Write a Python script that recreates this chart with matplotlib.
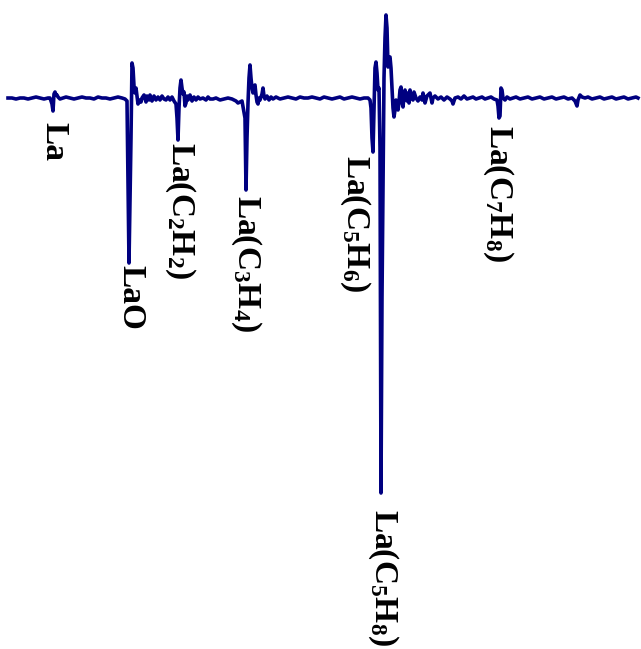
import matplotlib
matplotlib.use("Agg")
import matplotlib.pyplot as plt

plt.rcParams["font.family"] = "Liberation Serif"
plt.rcParams["mathtext.fontset"] = "custom"
plt.rcParams["mathtext.rm"] = "Liberation Serif:bold"
plt.rcParams["mathtext.bf"] = "Liberation Serif:bold"
plt.rcParams["mathtext.default"] = "bf"

# trace: position (arb.) and signal (arb., baseline = 0)
mass = [
    8, 12, 16, 20, 24, 28, 32, 36, 40, 44, 48, 50, 52, 53, 54, 55, 56, 57, 58, 60,
    63, 66, 70, 74, 78, 82, 86, 90, 94, 98, 102, 106, 110, 114, 118, 122, 125, 127,
    129, 131, 132, 133, 134, 135, 136, 137, 138, 139, 140, 141, 142, 144, 145, 146,
    147, 149, 150, 152, 154, 156, 158, 160, 162, 164, 166, 168, 170, 172, 174, 176,
    177, 178, 179, 180, 181, 182, 183, 184, 185, 186, 187, 188, 190, 192, 194, 196,
    198, 200, 203, 206, 208, 210, 213, 216, 220, 224, 228, 232, 236, 238, 240, 242,
    245, 246, 247, 248, 249, 250, 251, 252, 253, 254, 255, 256, 257, 258, 259, 260,
    262, 263, 264, 265, 267, 269, 271, 273, 276, 280, 284, 288, 292, 296, 300, 304,
    308, 312, 316, 320, 324, 328, 332, 336, 340, 344, 348, 352, 356, 360, 364, 368,
    370, 371, 372, 373, 374, 375, 376, 377, 378, 379, 380,
    381, 382, 384, 385, 386, 387, 388, 389, 390, 391, 392, 393, 394, 395, 396, 397,
    398, 399, 400, 401, 402, 403, 404, 405, 406, 407, 408, 409, 410, 411, 413, 414,
    416, 418, 420, 422, 423, 425, 427, 430, 432, 433, 435, 438, 441, 444, 447, 450,
    452, 453, 455, 458, 461, 464, 467, 470, 473, 476, 479, 482, 485, 488, 491, 494,
    497, 498, 499, 500, 501, 502, 503, 505, 507, 510, 513, 516, 520, 524, 528, 532,
    536, 540, 544, 548, 552, 556, 560, 564, 568, 572, 575, 577, 578, 580, 582, 585,
    588, 592, 596, 600, 604, 608, 612, 616, 620, 624, 628, 632, 636, 638,
]
signal = [
    0, 0, -1, 0, 0, -1, 0, 1, 0, -1, 0, 0, -6, -13, 4, 6, 3, 3, 1, -1,
    0, 1, 0, -1, 0, 1, 0, 0, -1, 1, 0, 0, -1, 0, 1, 0, -1, -3,
    -165, -40, 35, 30, 12, 5, 10, 2, -6, -4, -2, -4, 0, 3, 0, -4,
    2, -2, 3, -3, 2, -2, 1, -2, 2, -1, -2, 1, -2, 1, -3, -6,
    -20, -42, -10, 10, 18, 10, 4, 6, -8, -5, 2, -2, 3, -3, 1, -2,
    1, -1, 0, -2, 1, -1, -1, 0, -2, -1, 0, -1, -3, -5, -4, -3,
    -20, -92, -40, -5, 20, 33, 20, 10, 5, 12, 13, 3, -4, -6, 0, -2,
    4, 10, 2, -1, 2, -2, 1, -1, 1, -1, 0, 1, 0, -1, 1, 0,
    0, 1, 0, -1, 1, 0, -1, 0, 1, -1, 0, 1, 0, -1, 0, 0,
    -2, -10, -40, -54, -10, 30, 36, 25, 8, 10, -50,
    -395, -200, 20, 60, 83, 70, 31, 40, 41, 30, 10, -10, -19, -12, -2, -8,
    -12, -4, 8, 11, -4, -9, 2, 8, 3, -3, 5, -5, 8, 0, -2, 6,
    0, -3, 1, -2, 5, -5, 2, 5, -5, 0, 2, -1, 1, -2, 1, -1,
    -3, -6, 0, 1, -1, 2, -1, 0, 1, -1, 0, 1, -1, 0, 1, -1,
    -2, -8, -20, -18, 10, 8, 0, -2, 1, -1, 0, 1, -1, 0, 1, -1,
    0, 1, -1, 0, 1, -1, 0, 1, -1, 0, -3, -8, -2, 3, 1, 0,
    1, -1, 0, 1, -1, 0, 1, -1, 0, 1, -1, 0, 1, 0,
]

# peak labels: anchor position and where the label starts
label_text = [
    "La", "LaO", "La(C$_2$H$_2$)", "La(C$_3$H$_4$)",
    "La(C$_5$H$_6$)", "La(C$_5$H$_8$)", "La(C$_7$H$_8$)",
]
label_x = [54, 131, 180, 246, 355, 383, 498]
label_y = [-24, -167, -44, -97, -57, -411, -27]

fig = plt.figure(figsize=(6.41, 6.49), dpi=100)
ax = fig.add_axes([0, 0, 1, 1])
ax.plot(mass, signal, color="#000080", linewidth=2.6, solid_joinstyle="round")

for txt, x, y in zip(label_text, label_x, label_y):
    ax.text(x, y, txt, rotation=-90, ha="center", va="top",
            fontsize=24, fontweight="bold", color="black")

ax.set_xlim(0, 641)
ax.set_ylim(-551, 98)
ax.axis("off")

fig.savefig("out.png", dpi=100)
